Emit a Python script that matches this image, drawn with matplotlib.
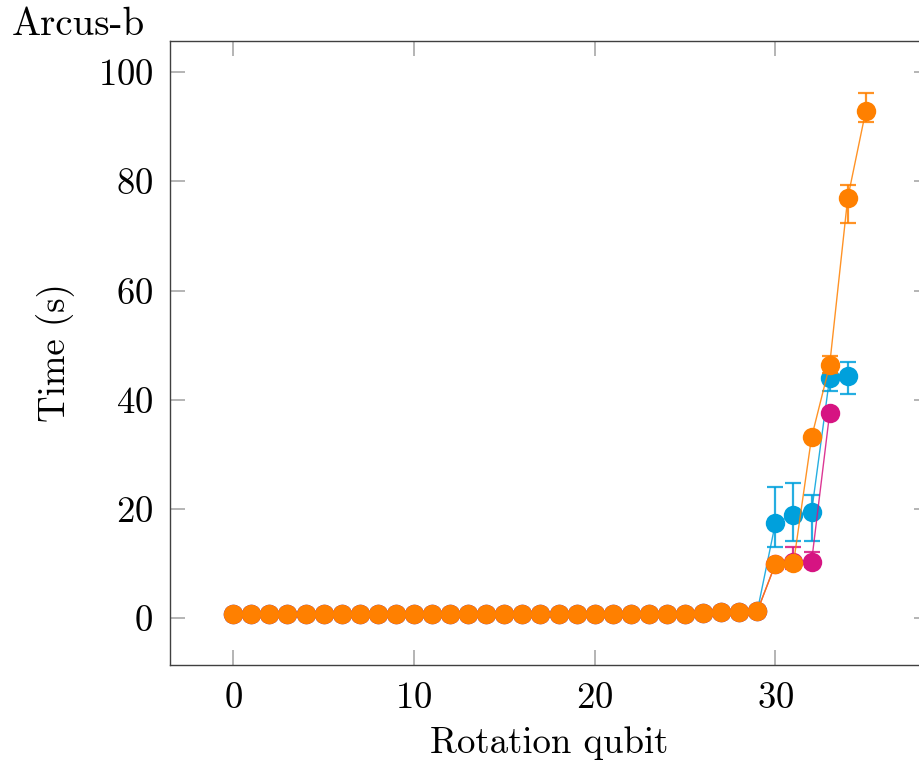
# -*- coding: utf-8 -*-
"""
Arcus-b: runtime per rotation qubit (three runs with error bars)
"""

import numpy as np
import matplotlib
matplotlib.use('Agg')
import matplotlib.pyplot as plt

# Computer Modern look, like the LaTeX original
plt.rcParams['font.family'] = 'serif'
plt.rcParams['font.serif'] = ['cmr10', 'DejaVu Serif']
plt.rcParams['mathtext.fontset'] = 'cm'
plt.rcParams['axes.unicode_minus'] = False
plt.rcParams['axes.formatter.use_mathtext'] = True

# ---- data ----
qubit_cyan = list(range(0, 35))
time_cyan = [0.7, 0.7, 0.7, 0.7, 0.7, 0.7, 0.7, 0.7, 0.7, 0.7,
             0.7, 0.7, 0.7, 0.7, 0.7, 0.7, 0.7, 0.7, 0.7, 0.7,
             0.7, 0.7, 0.7, 0.7, 0.7, 0.7, 0.9, 1.1, 1.2, 1.3,
             17.4, 18.9, 19.4, 44.0, 44.3]
err_lo_cyan = [0.1] * 30 + [4.4, 4.8, 5.3, 2.4, 3.3]
err_hi_cyan = [0.1] * 30 + [6.6, 5.8, 3.1, 2.5, 2.6]

qubit_magenta = list(range(0, 34))
time_magenta = [0.7, 0.7, 0.7, 0.7, 0.7, 0.7, 0.7, 0.7, 0.7, 0.7,
                0.7, 0.7, 0.7, 0.7, 0.7, 0.7, 0.7, 0.7, 0.7, 0.7,
                0.7, 0.7, 0.7, 0.7, 0.7, 0.7, 0.9, 1.1, 1.2, 1.3,
                9.9, 10.3, 10.3, 37.5]
err_lo_magenta = [0.1] * 30 + [0.5, 1.4, 1.0, 0.5]
err_hi_magenta = [0.1] * 30 + [0.5, 2.7, 1.8, 0.5]

qubit_orange = list(range(0, 36))
time_orange = [0.7, 0.7, 0.7, 0.7, 0.7, 0.7, 0.7, 0.7, 0.7, 0.7,
               0.7, 0.7, 0.7, 0.7, 0.7, 0.7, 0.7, 0.7, 0.7, 0.7,
               0.7, 0.7, 0.7, 0.7, 0.7, 0.7, 0.9, 1.1, 1.2, 1.3,
               9.9, 10.0, 33.1, 46.3, 76.9, 92.9]
err_lo_orange = [0.1] * 30 + [0.5, 0.6, 0.5, 1.5, 4.6, 2.1]
err_hi_orange = [0.1] * 30 + [0.5, 0.6, 0.5, 1.7, 2.4, 3.3]

x_ticks = [0, 10, 20, 30]
y_ticks = [0, 20, 40, 60, 80, 100]

CYAN = '#00A0DC'
MAGENTA = '#D61482'
ORANGE = '#FF8000'

fig = plt.figure(figsize=(9.2, 7.68), dpi=100)
# axes run a little past the right edge, as in the cropped original
ax = fig.add_axes([0.1848, 0.1341, 0.825, 0.8125])

series = [
    (qubit_cyan, time_cyan, err_lo_cyan, err_hi_cyan, CYAN),
    (qubit_magenta, time_magenta, err_lo_magenta, err_hi_magenta, MAGENTA),
    (qubit_orange, time_orange, err_lo_orange, err_hi_orange, ORANGE),
]
for i, (xs, ys, lo, hi, col) in enumerate(series):
    # error bars with caps first, then line + markers on top
    ax.errorbar(xs, ys, yerr=[lo, hi], fmt='none', ecolor=col, alpha=0.85,
                elinewidth=1.6, capsize=6, capthick=1.6, zorder=2 + i)
    ax.plot(xs, ys, color=col, lw=1.0, alpha=0.85, zorder=2 + i)
    ax.plot(xs, ys, 'o', color=col, markersize=14, markeredgewidth=0,
            zorder=2 + i)

ax.set_xlim(-3.5, 38.5)
ax.set_ylim(-8.6, 105.7)
ax.set_xticks(x_ticks)
ax.set_yticks(y_ticks)

ax.tick_params(direction='in', length=11, width=1.2, color='#a8a8a8',
               top=True, right=True, labelsize=26.5, pad=12)
for s in ax.spines.values():
    s.set_color('#404040')
    s.set_linewidth(1.0)

ax.set_xlabel('Rotation qubit', fontsize=26.5, labelpad=8)
ax.set_ylabel('Time (s)', fontsize=26.5, labelpad=16)

fig.text(0.013, 1 - 35 / 768, 'Arcus-b', fontsize=28, va='baseline', ha='left')

plt.savefig('out.png', dpi=100)
plt.close()
